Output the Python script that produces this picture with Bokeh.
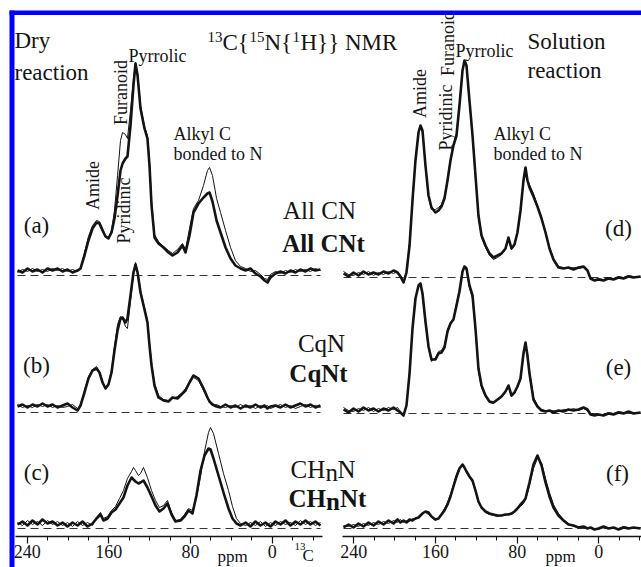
import numpy as np
from bokeh.plotting import figure
from bokeh.models import Range1d, LinearAxis, FixedTicker, Label, BoxAnnotation, ColumnDataSource
from bokeh.embed import file_html
from bokeh.resources import INLINE

# ---------------- data (ppm grids and intensities) -------------
PPM_AB = [249.5,244.6,239.7,234.8,229.9,225.0,220.1,215.2,210.3,205.4,
          200.5,195.6,190.7,187.8,183.9,180.0,176.0,172.1,169.2,166.2,
          163.3,160.4,157.4,154.5,151.5,148.6,146.6,143.7,141.8,138.8,
          135.9,133.9,131.9,129.0,125.1,122.2,120.2,118.2,115.3,111.4,
          106.5,101.6,97.7,92.8,87.9,84.9,81.0,77.1,72.2,67.3,
          63.4,61.4,58.5,54.5,50.6,45.7,40.8,36.0,31.0,26.1,
          21.3,16.4,11.5,7.5,4.6,1.7,-3.2,-8.1,-13.0,-17.9,
          -22.8,-27.6,-32.6,-37.5,-42.3,-47.3]
A_THICK = [5,3,7,4,6,3,7,5,7,4, 6,3,5,7,20,35,47,53,52,45, 39,37,43,57,80,105,112,117,119,150,
           190,212,200,167,147,137,110,70,38,32, 28,23,20,23,30,23,40,63,72,78,
           82,83,74,55,43,28,17,10,7,5, 7,2,-1,-5,-7,-2,2,4,2,5, 3,6,4,7,5,6]
A_THIN = [3,6,4,7,4,6,4,7,5,7, 4,6,4,6,23,39,50,55,54,47, 40,38,45,65,100,135,143,141,137,165,
          197,213,203,170,149,140,115,75,41,34, 29,25,22,26,32,26,47,67,75,90,
          105,108,100,77,63,45,28,15,9,7, 4,5,1,-3,-4,1,4,2,5,3, 6,4,6,4,7,5]
B_THICK = [6,8,5,8,6,9,6,8,5,7, 9,5,2,7,20,34,42,44,40,30, 24,28,40,62,82,94,95,90,94,117,
           140,148,140,120,103,90,67,47,27,15, 12,11,15,14,19,22,30,37,34,24,
           15,11,8,6,5,8,5,7,4,7, 5,8,5,7,4,6,7,5,8,5, 7,9,6,8,5,7]
B_THIN = [8,5,7,5,8,6,8,5,7,5, 6,8,4,6,22,36,43,46,41,31, 25,29,42,66,88,96,94,86,84,112,
          138,150,142,122,105,92,70,50,29,17, 13,12,14,16,20,24,31,35,32,22,
          14,10,7,8,6,5,7,5,8,5, 7,4,7,5,7,4,6,8,5,7, 4,6,8,5,7,5]

PPM_C = [249.5,244.6,239.7,234.8,229.9,225.0,220.1,215.2,210.3,205.4,
         200.5,195.6,190.7,185.8,180.9,176.0,172.1,168.2,165.3,161.3,
         157.4,153.5,149.6,145.7,141.8,137.8,135.9,133.9,131.0,129.0,
         126.1,122.2,118.2,114.3,110.4,106.5,102.6,98.6,94.7,89.8,
         85.9,82.0,78.1,74.2,70.2,66.3,62.4,60.4,57.5,52.6,
         47.7,42.8,38.9,35.0,31.0,26.1,21.3,16.4,11.5,6.6,
         1.7,-3.2,-8.1,-13.0,-17.9,-22.8,-27.6,-32.6,-37.5,-42.3,-47.3]
C_THICK = [4,7,3,8,4,9,5,7,3,6, 2,6,3,7,2,5,10,14,8,10, 16,19,25,31,43,51,49,47,45,46,
           48,41,32,23,17,20,25,14,7,8, 12,18,15,33,58,73,80,79,70,53,
           36,20,10,5,3,6,2,7,3,6, 2,7,4,8,3,7,4,8,4,7, 3]
C_THIN = [6,3,8,4,7,3,8,4,7,3, 6,2,7,3,6,3,11,16,10,12, 18,22,30,38,50,57,61,58,53,55,
          61,51,38,28,21,23,28,16,8,9, 14,20,18,31,52,77,96,101,95,75,
          55,38,22,10,5,3,6,3,7,2, 6,3,7,4,6,3,8,4,7,3, 6]

PPM_R = [250.1,245.2,240.3,235.4,230.5,225.6,220.7,215.8,210.9,206.0,
         201.1,197.2,194.3,191.3,188.4,185.4,182.5,179.6,176.6,174.7,
         172.7,169.8,166.8,163.9,160.0,157.0,154.1,151.2,148.2,145.3,
         142.4,139.4,136.5,133.5,131.6,129.6,126.7,123.7,120.8,117.9,
         114.9,111.0,107.1,103.2,99.2,95.3,91.4,88.5,85.5,82.6,
         79.7,76.7,73.8,71.8,69.9,67.9,64.0,60.1,56.1,52.2,
         48.3,44.4,39.5,34.6,29.7,24.8,19.9,15.0,11.1,8.1,
         4.2,0.3,-4.6,-9.5,-14.4,-19.3,-24.2,-29.1,-34.0,-41.0]
D_THICK = [4,1,5,2,6,3,5,3,6,4, 7,5,1,-5,5,32,77,117,145,152, 147,112,82,70,65,67,71,79,97,117,
           132,142,172,207,217,212,177,142,102,62, 42,32,24,20,22,24,29,40,29,33,
           45,67,97,110,97,90,81,71,59,45, 29,18,10,9,10,8,10,11,7,-1, -3,-2,-3,-1,-2,0,-1,1,0,1]
D_THIN = [6,3,2,5,3,6,2,5,3,6, 4,6,2,-4,6,34,79,118,146,151, 145,110,80,68,68,70,73,81,99,118,
          133,144,174,208,216,210,175,140,100,60, 40,30,22,18,20,23,28,38,28,32,
          44,66,96,108,98,93,84,72,60,46, 30,19,11,10,9,10,9,10,6,0, -2,-1,-2,0,-1,1,0,2,1,0]
E_THICK = [4,1,5,2,6,3,5,2,5,3, 6,3,1,-2,8,40,85,115,128,130, 120,92,67,54,54,60,61,66,82,90,
           94,108,122,142,147,145,128,118,85,45, 28,18,12,11,14,17,22,28,18,21,
           27,35,60,71,58,40,14,7,3,2, 3,1,3,2,4,3,4,6,4,-1, -2,-1,-2,0,-1,1,0,2,0,1]
E_THIN = [6,3,2,5,3,6,2,5,3,6, 4,6,2,-1,9,42,86,116,127,129, 118,90,65,52,56,62,63,68,84,91,
          95,110,124,143,146,143,126,115,82,43, 26,17,11,10,13,16,21,27,17,20,
          26,34,58,69,60,43,16,8,4,3, 2,3,2,4,3,5,3,5,3,0, -1,-2,-1,1,0,2,1,0,1,0]
F_THICK = [1,4,1,5,2,6,3,7,4,8, 5,9,6,8,6,9,8,10,11,13, 15,17,16,12,9,10,14,18,24,32,
           42,52,60,64,61,57,52,48,38,27, 21,17,15,14,13,13,14,14,15,17,
           20,24,27,30,38,46,64,73,63,46, 32,21,13,8,4,3,1,2,0,1, -1,0,2,0,1,-1,1,0,1,0]
F_THIN = [3,2,4,2,5,3,6,4,7,5, 8,6,9,6,8,7,10,9,12,14, 16,16,14,11,8,11,15,20,26,34,
          44,54,61,63,60,56,51,46,37,26, 20,16,14,13,12,13,13,15,14,16,
          19,22,25,29,35,43,60,70,66,50, 36,24,15,9,5,2,2,1,1,0, 0,-1,1,1,0,0,2,1,0,1]

# vertical offsets of the stacked spectra (baseline levels)
OFFSETS = {"a": 261, "b": 124, "c": 8, "d": 259, "e": 123, "f": 8}
MAJOR_TICKS = [240, 160, 80, 0]
MINOR_TICKS = [-40, -20, 20, 40, 60, 100, 120, 140, 180, 200, 220]

SPECTRA = [
    ("a", PPM_AB, A_THICK, A_THIN, None),
    ("b", PPM_AB, B_THICK, B_THIN, None),
    ("c", PPM_C, C_THICK, C_THIN, None),
    ("d", PPM_R, D_THICK, D_THIN, "right"),
    ("e", PPM_R, E_THICK, E_THIN, "right"),
    ("f", PPM_R, F_THICK, F_THIN, "right"),
]

# --------------- page-position helpers (layout only) ---------------
def lx(px):  # left panel ppm at page x
    return (271.7 - px) / 1.0208

def rx(px):  # right panel ppm at page x
    return (598.3 - px) / 1.0208

def yy(py):  # data y for page y (0 = axis line)
    return 536 - py

W, H = 641, 567
INK = "#141414"
SERIF = "Liberation Serif"

p = figure(width=W, height=H, output_backend="svg", toolbar_location=None,
           x_axis_type=None, y_axis_type=None,
           x_range=Range1d(lx(0), lx(W)), y_range=Range1d(yy(H), yy(0)),
           min_border=0)
p.extra_x_ranges = {"right": Range1d(rx(0), rx(W))}
p.outline_line_color = None
p.background_fill_color = "white"
p.border_fill_color = "white"

for key, ppm, thick, thin, rng in SPECTRA:
    off = OFFSETS[key]
    kw = {} if rng is None else {"x_range_name": rng}
    p.line([max(ppm), min(ppm)], [off, off], line_dash="8 5", line_width=1.1,
           line_color="#333333", **kw)
    s1 = ColumnDataSource(dict(x=ppm, y=np.array(thick) + off))
    s2 = ColumnDataSource(dict(x=ppm, y=np.array(thin) + off))
    p.line("x", "y", source=s1, line_width=2.6, line_color=INK, line_join="round", **kw)
    p.line("x", "y", source=s2, line_width=1.0, line_color=INK, line_join="round", **kw)

# axes (two bounded axes on the same baseline)
axes = [
    LinearAxis(ticker=FixedTicker(ticks=MAJOR_TICKS, minor_ticks=MINOR_TICKS),
               bounds=(lx(322), lx(15)), fixed_location=0),
    LinearAxis(x_range_name="right",
               ticker=FixedTicker(ticks=MAJOR_TICKS, minor_ticks=MINOR_TICKS),
               bounds=(rx(W), rx(342)), fixed_location=0),
]
for ax in axes:
    ax.axis_line_width = 1.5
    ax.axis_line_color = INK
    ax.major_tick_in = 0
    ax.major_tick_out = 7
    ax.minor_tick_in = 0
    ax.minor_tick_out = 4
    ax.major_tick_line_color = INK
    ax.minor_tick_line_color = INK
    ax.major_tick_line_width = 1.2
    ax.minor_tick_line_width = 1
    ax.major_label_text_font = SERIF
    ax.major_label_text_font_size = "18px"
    ax.major_label_text_color = INK
    ax.major_label_standoff = 1
    p.add_layout(ax, "below")

def lab(text, px, py, size, align="left", baseline="alphabetic", angle=0.0, style="normal"):
    p.add_layout(Label(x=lx(px), y=yy(py), text=text, text_font=SERIF,
                       text_font_size=f"{size}px", text_color=INK, text_align=align,
                       text_baseline=baseline, angle=angle, text_font_style=style))

ROT = np.pi / 2
# corner titles
lab("Dry", 14, 40, 23)
lab("reaction", 14, 72, 23)
lab("Solution", 527, 41, 23)
lab("reaction", 527, 70, 23)
# NMR title
lab("13", 207, 36, 15)
lab("C{", 222, 42, 23)
lab("15", 249, 36, 15)
lab("N{", 264, 42, 23)
lab("1", 292, 36, 15)
lab("H}} NMR", 300, 42, 23)
# peak labels, left
lab("Pyrrolic", 128, 55, 18)
lab("Alkyl C", 173, 133, 18)
lab("bonded to N", 173, 153, 18)
lab("Furanoid", 120, 92, 18, align="center", baseline="middle", angle=ROT)
lab("Amide", 92, 185, 18, align="center", baseline="middle", angle=ROT)
lab("Pyridinic", 123, 210, 18, align="center", baseline="middle", angle=ROT)
# peak labels, right
lab("Pyrrolic", 455, 50, 18)
lab("Alkyl C", 493, 133, 18)
lab("bonded to N", 493, 153, 18)
lab("Amide", 419, 93, 18, align="center", baseline="middle", angle=ROT)
lab("Pyridinic", 445, 117, 18, align="center", baseline="middle", angle=ROT)
lab("Furanoid", 447, 43, 18, align="center", baseline="middle", angle=ROT)
# panel letters
for t, px, py in [("(a)", 36, 225), ("(b)", 36, 365), ("(c)", 36, 472),
                  ("(d)", 618, 228), ("(e)", 618, 367), ("(f)", 617, 473)]:
    lab(t, px, py, 23, align="center", baseline="middle")
# sample names
for t, px, py, st in [("All CN", 319, 210, "normal"), ("All CNt", 323, 243, "bold"),
                      ("CqN", 321, 343, "normal"), ("CqNt", 318, 373, "bold")]:
    lab(t, px, py, 25, align="center", style=st)
# CHnN with lowered n
lab("CH", 290, 469, 25)
lab("n", 325, 472, 25)
lab("N", 337, 469, 25)
lab("CH", 288, 498, 25, style="bold")
lab("n", 325.5, 501, 25, style="bold")
lab("Nt", 339.5, 498, 25, style="bold")
# axis captions
lab("ppm", 217, 556, 17)
lab("ppm", 545, 556, 17)
lab("13", 294, 546, 11)
lab("C", 302, 555, 17)

# blue frame edges (top and left)
BLUE = "#0000ff"
p.add_layout(BoxAnnotation(left=lx(9), right=None, top=yy(10), bottom=yy(14.5),
                           fill_color=BLUE, fill_alpha=1, line_color=None))
p.add_layout(BoxAnnotation(left=lx(9), right=lx(14), top=yy(10), bottom=None,
                           fill_color=BLUE, fill_alpha=1, line_color=None))

open("out.html", "w").write(file_html(p, INLINE))
